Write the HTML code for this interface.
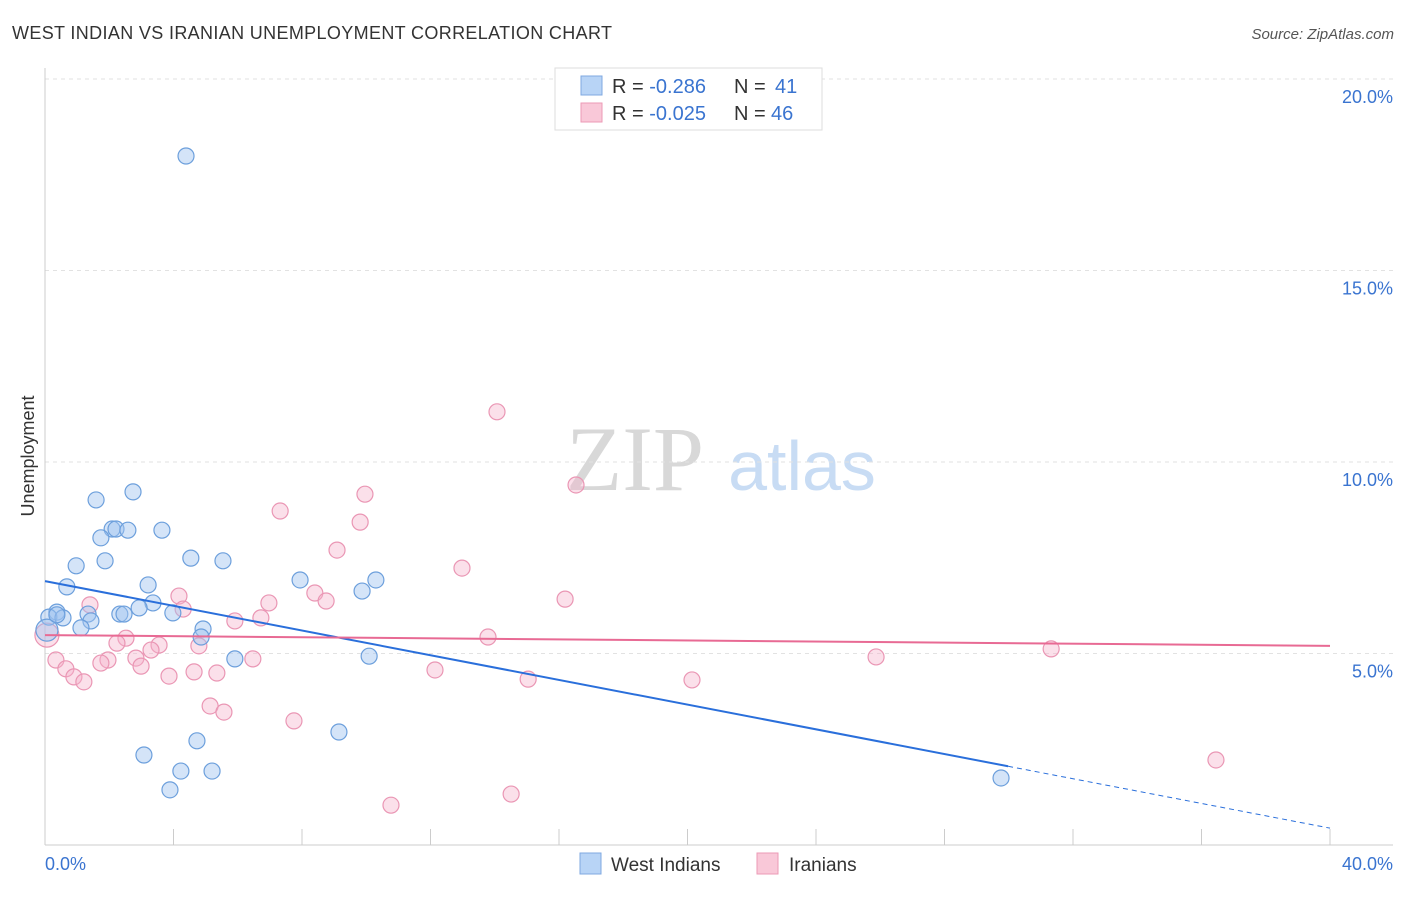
<!DOCTYPE html>
<html><head><meta charset="utf-8"><style>
body{margin:0;background:#fff;font-family:"Liberation Sans",sans-serif;}
svg text{font-family:"Liberation Sans",sans-serif;}
</style></head><body>
<svg id="chart" width="1406" height="892">
<text x="12" y="39" font-size="18" fill="#333" textLength="600">WEST INDIAN VS IRANIAN UNEMPLOYMENT CORRELATION CHART</text>
<text x="1394" y="39" font-size="15" fill="#555" font-style="italic" text-anchor="end">Source: ZipAtlas.com</text>
<text x="34" y="456" font-size="18" fill="#333" text-anchor="middle" transform="rotate(-90 34 456)">Unemployment</text>
<g>
<text x="635" y="490" font-size="92" fill="#d8d8d8" text-anchor="middle" font-family="Liberation Serif,serif" style="font-family:'Liberation Serif',serif">ZIP</text>
<text x="802" y="490" font-size="70" fill="#c8dcf4" text-anchor="middle">atlas</text>
</g>
<g id="grid"></g><g id="axes"></g><g id="pts"></g><g id="lines"></g>
<g>
<rect x="555" y="68" width="267" height="62" fill="#fff" stroke="#ddd"/>
<rect x="581" y="76" width="21" height="19" fill="#b8d4f6" stroke="#7fa8e0"/>
<rect x="581" y="103" width="21" height="19" fill="#f9c8d8" stroke="#ec9ab6"/>
<text x="612" y="93" font-size="20" fill="#333">R = <tspan fill="#3a74d0">-0.286</tspan><tspan x="734">N = </tspan><tspan fill="#3a74d0" x="775">41</tspan></text>
<text x="612" y="120" font-size="20" fill="#333">R = <tspan fill="#3a74d0">-0.025</tspan><tspan x="734">N = </tspan><tspan fill="#3a74d0" x="771">46</tspan></text>
</g>
<g>
<rect x="580" y="853" width="21" height="21" fill="#b8d4f6" stroke="#7fa8e0"/>
<text x="611" y="871" font-size="19" fill="#333">West Indians</text>
<rect x="757" y="853" width="21" height="21" fill="#f9c8d8" stroke="#ec9ab6"/>
<text x="789" y="871" font-size="19" fill="#333">Iranians</text>
</g>
</svg>
<script>
const yTicks=[5,10,15,20];
const xTickLabels=["0.0%","40.0%"];
const blueX=[4.39,1.59,2.74,2.09,2.21,2.58,3.64,1.74,0.97,1.87,4.54,5.54,0.68,3.21,7.94,10.30,9.87,3.36,2.93,2.33,2.46,3.98,0.37,1.34,0.12,0.56,1.43,1.12,4.92,4.86,5.91,10.09,9.15,4.73,3.08,4.23,5.20,3.89,29.76,0.06,0.37];
const blueY=[17.99,9.01,9.22,8.25,8.25,8.22,8.22,8.02,7.29,7.42,7.49,7.42,6.74,6.79,6.92,6.92,6.63,6.32,6.19,6.03,6.03,6.06,6.08,6.03,5.95,5.93,5.85,5.67,5.64,5.43,4.86,4.93,2.95,2.72,2.35,1.93,1.93,1.44,1.75,5.61,6.01];
const pinkX=[14.07,9.96,16.53,7.32,9.81,9.09,12.98,4.17,8.40,4.30,8.75,6.97,1.40,16.19,5.91,6.72,13.79,2.52,2.24,3.55,4.79,3.30,2.83,1.96,1.74,6.47,0.06,0.34,0.65,0.90,1.21,2.99,3.86,4.64,5.35,12.14,15.04,25.87,31.32,20.14,5.14,5.57,7.75,36.45,10.77,14.51];
const pinkY=[11.31,9.16,9.40,8.72,8.43,7.70,7.23,6.50,6.58,6.16,6.37,6.32,6.27,6.42,5.85,5.93,5.43,5.40,5.27,5.22,5.20,5.09,4.88,4.83,4.75,4.86,5.48,4.83,4.60,4.39,4.26,4.67,4.41,4.52,4.49,4.57,4.33,4.91,5.12,4.31,3.63,3.47,3.24,2.22,1.04,1.33];
const blueTrend=[6.89,0.44];
const blueSolidEnd=29.98;
const pinkTrend=[5.48,5.20];
const NS="http://www.w3.org/2000/svg";
const sx=v=>45+v/40*1285;
const sy=v=>845-v/20*766;
function mk(tag,attrs,parent){const e=document.createElementNS(NS,tag);for(const k in attrs)e.setAttribute(k,attrs[k]);document.getElementById(parent).appendChild(e);return e;}
yTicks.forEach(t=>{
 const l=mk('line',{x1:45,x2:1393,y1:sy(t),y2:sy(t),stroke:'#e2e2e2','stroke-dasharray':'4,4'},'grid');
 
 
 const tx=mk('text',{x:1393,y:sy(t)+24,'font-size':18,fill:'#3a74d0','text-anchor':'end'},'grid');
 tx.textContent=t.toFixed(1)+'%';
 
 
});
const ax=mk('line',{x1:45,x2:45,y1:68,y2:845,stroke:'#ccc'},'axes');


const bx=mk('line',{x1:45,x2:1393,y1:845,y2:845,stroke:'#ccc'},'axes');


for(let i=0;i<=10;i++){const t=mk('line',{x1:sx(i*4),x2:sx(i*4),y1:829,y2:845,stroke:'#ccc'},'axes');
 
 }
xTickLabels.forEach((s,i)=>{const t=mk('text',{x:i?1393:45,y:870,'font-size':18,fill:'#3a74d0','text-anchor':i?'end':'start'},'axes');t.textContent=s;
 
 });
pinkX.forEach((x,i)=>{const c=mk('circle',{cx:sx(x),cy:sy(pinkY[i]),r:(i==26?12:8),fill:'rgba(246,178,202,0.4)',stroke:'#ea96b4','stroke-width':1.2},'pts');
 
 });
blueX.forEach((x,i)=>{const c=mk('circle',{cx:sx(x),cy:sy(blueY[i]),r:(i==39?11:8),fill:'rgba(160,196,240,0.45)',stroke:'#6c9fdc','stroke-width':1.2},'pts');
 
 });
const bAt=x=>blueTrend[0]+(blueTrend[1]-blueTrend[0])*x/40;
let l1=mk('line',{x1:sx(0),y1:sy(bAt(0)),x2:sx(blueSolidEnd),y2:sy(bAt(blueSolidEnd)),stroke:'#2a6fdb','stroke-width':2},'lines');


let l2=mk('line',{x1:sx(blueSolidEnd),y1:sy(bAt(blueSolidEnd)),x2:sx(40),y2:sy(bAt(40)),stroke:'#2a6fdb','stroke-width':1,'stroke-dasharray':'5,4'},'lines');


let l3=mk('line',{x1:sx(0),y1:sy(pinkTrend[0]),x2:sx(40),y2:sy(pinkTrend[1]),stroke:'#e86a94','stroke-width':2},'lines');


</script>
</body></html>
